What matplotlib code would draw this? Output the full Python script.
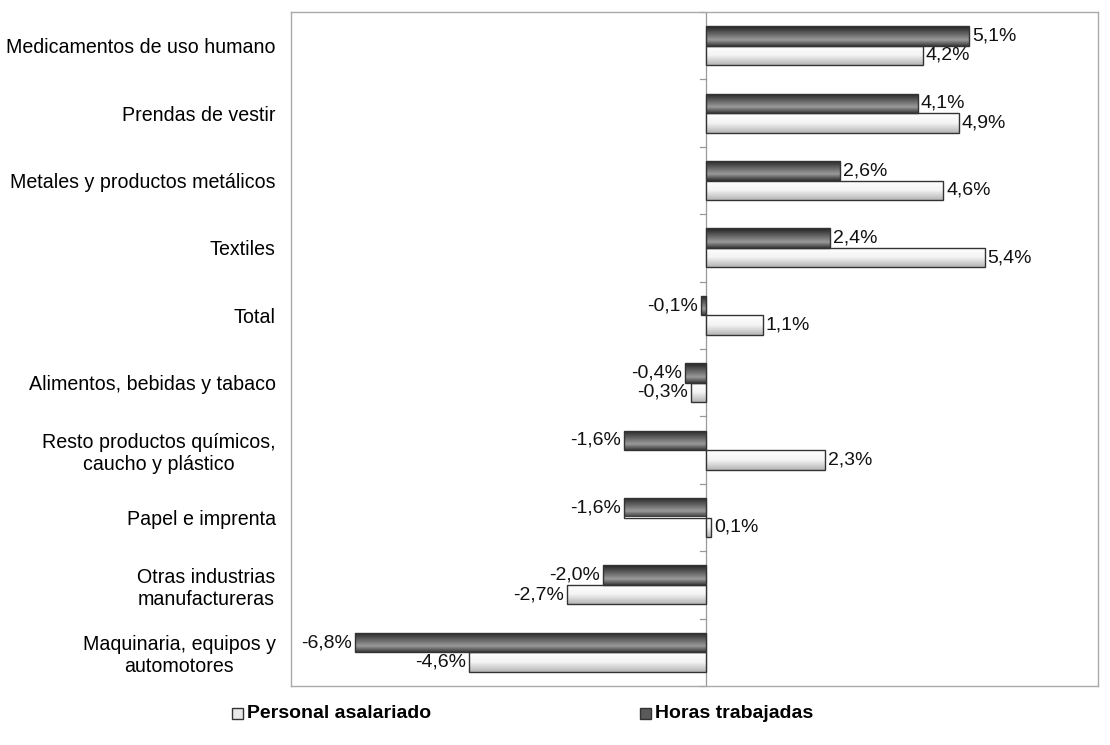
import numpy as np
import matplotlib
matplotlib.use("Agg")
import matplotlib.pyplot as plt
from matplotlib.colors import LinearSegmentedColormap
from matplotlib.patches import Rectangle

plt.rcParams['font.family'] = ['Liberation Sans', 'DejaVu Sans']

categories = ["Medicamentos de uso humano", "Prendas de vestir",
              "Metales y productos metálicos", "Textiles", "Total",
              "Alimentos, bebidas y tabaco",
              "Resto productos químicos,\ncaucho y plástico",
              "Papel e imprenta", "Otras industrias\nmanufactureras",
              "Maquinaria, equipos y\nautomotores"]
horas = [5.1, 4.1, 2.6, 2.4, -0.1, -0.4, -1.6, -1.6, -2.0, -6.8]
personal = [4.2, 4.9, 4.6, 5.4, 1.1, -0.3, 2.3, 0.1, -2.7, -4.6]
series_names = ["Personal asalariado", "Horas trabajadas"]

W, H = 1110, 745
fig = plt.figure(figsize=(11.1, 7.45), dpi=100)
ax = fig.add_axes([291/W, 1-686/H, (1098-291)/W, (686-12)/H])

n = len(categories)
y = np.arange(n)
h = 0.29

dark_cmap = LinearSegmentedColormap.from_list("d", [(0, "#222222"), (0.7, "#9a9a9a"), (1, "#3a3a3a")])
light_cmap = LinearSegmentedColormap.from_list("l", [(0, "#ffffff"), (0.5, "#f4f4f4"), (1, "#b5b5b5")])
grad = np.linspace(0, 1, 64).reshape(-1, 1)

def grad_bars(vals, centers, cmap):
    bars = ax.barh(centers, vals, height=h, facecolor="none", edgecolor="#333333", linewidth=1.0, zorder=3)
    for b in bars:
        x0, yb, w, hh = b.get_x(), b.get_y(), b.get_width(), b.get_height()
        xl, xr = min(x0, x0 + w), max(x0, x0 + w)
        im = ax.imshow(grad, cmap=cmap, aspect="auto", extent=(xl, xr, yb + hh, yb),
                       interpolation="bilinear", zorder=2)
        im.set_clip_path(b)
    return bars

grad_bars(horas, y - h/2, dark_cmap)
grad_bars(personal, y + h/2, light_cmap)

def fmt(v):
    return f"{v:.1f}%".replace(".", ",")

off = 0.06
fs = 14
for yi, v in zip(y - h/2, horas):
    ax.text(v + (off if v >= 0 else -off), yi, fmt(v), ha="left" if v >= 0 else "right",
            va="center", fontsize=fs, color="#111111", zorder=4)
for yi, v in zip(y + h/2, personal):
    ax.text(v + (off if v >= 0 else -off), yi, fmt(v), ha="left" if v >= 0 else "right",
            va="center", fontsize=fs, color="#111111", zorder=4)

ax.set_xlim(-8.05, 7.6)
ax.set_ylim(n - 0.5, -0.5)
ax.axvline(0, color="#999999", linewidth=0.9, zorder=1)
for b in np.arange(-0.5, n + 0.5, 1):
    ax.plot([-0.12, 0], [b, b], color="#999999", linewidth=0.9, zorder=1, clip_on=False)

ax.set_xticks([])
ax.set_yticks(y)
ax.set_yticklabels(categories, fontsize=14.1, ha="right", multialignment="center", linespacing=1.2)
ax.tick_params(axis="y", length=0, pad=11)
for s in ax.spines.values():
    s.set_color("#aaaaaa")
    s.set_linewidth(1.0)

# legend
ly = 1 - 713/H
sq = 11
fig.add_artist(Rectangle((232/W, 1 - 719/H), sq/W, sq/H, transform=fig.transFigure,
                         facecolor="#e8e8e8", edgecolor="#333333", linewidth=1.0))
fig.text(247/W, ly, series_names[0], fontsize=14, fontweight="bold", va="center", ha="left")
fig.add_artist(Rectangle((640/W, 1 - 719/H), sq/W, sq/H, transform=fig.transFigure,
                         facecolor="#5a5a5a", edgecolor="#333333", linewidth=1.0))
fig.text(655/W, ly, series_names[1], fontsize=14, fontweight="bold", va="center", ha="left")

fig.savefig("out.png", dpi=100)
